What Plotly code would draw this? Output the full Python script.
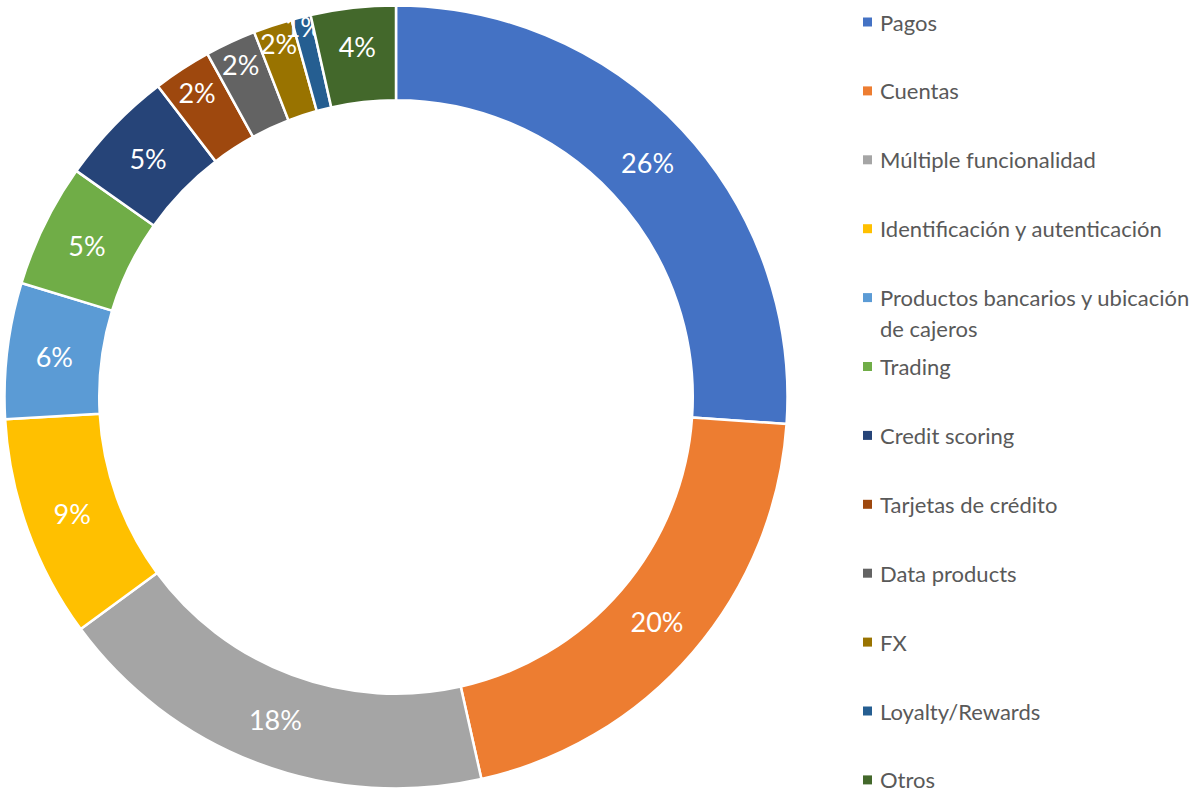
import plotly.graph_objects as go

labels = ["Pagos", "Cuentas", "Múltiple funcionalidad", "Identificación y autenticación",
          "Productos bancarios y ubicación<br>de cajeros", "Trading", "Credit scoring",
          "Tarjetas de crédito", "Data products", "FX", "Loyalty/Rewards", "Otros"]
values = [26.1, 20.4, 18.4, 9.2, 5.6, 5.1, 4.8, 2.4, 2.1, 1.6, 0.8, 3.5]
colors = ["#4472C4", "#ED7D31", "#A5A5A5", "#FFC000", "#5B9BD5", "#70AD47",
          "#264478", "#9E480E", "#636363", "#997300", "#255E91", "#43682B"]

W, H = 1197, 790
FONT = "Lato"

fig = go.Figure()
fig.add_trace(go.Pie(
    labels=labels, values=values, sort=False, direction="clockwise", rotation=0,
    hole=0.758,
    marker=dict(colors=colors, line=dict(color="white", width=2.5)),
    textinfo="percent", texttemplate="%{percent:.0%}",
    textposition="inside", insidetextorientation="horizontal",
    textfont=dict(family=FONT, size=27, color="white"),
    domain=dict(x=[4 / W, 788 / W], y=[1 - 788.5 / H, 1 - 5.5 / H]),
    showlegend=False,
))

shapes = []
annotations = []
row0, step = 22, 68.9
for i, (lab, col) in enumerate(zip(labels, colors)):
    yc = row0 + i * step
    shapes.append(dict(type="rect", xref="paper", yref="paper",
                       x0=863 / W, x1=872 / W, y0=1 - (yc + 4.5) / H, y1=1 - (yc - 4.5) / H,
                       fillcolor=col, line=dict(width=0)))
    for j, part in enumerate(lab.split("<br>")):
        annotations.append(dict(text=part, xref="paper", yref="paper",
                                x=878 / W, y=1 - (yc + j * 31) / H,
                                xanchor="left", yanchor="middle", showarrow=False,
                                font=dict(family=FONT, size=22, color="#595959")))

fig.update_layout(
    width=W, height=H, margin=dict(l=0, r=0, t=0, b=0),
    paper_bgcolor="white", plot_bgcolor="white",
    uniformtext=dict(minsize=27, mode="show"),
    shapes=shapes, annotations=annotations,
)
fig.write_html("out.html", config={"displayModeBar": False},
               post_script="document.body.style.margin='0px';")
